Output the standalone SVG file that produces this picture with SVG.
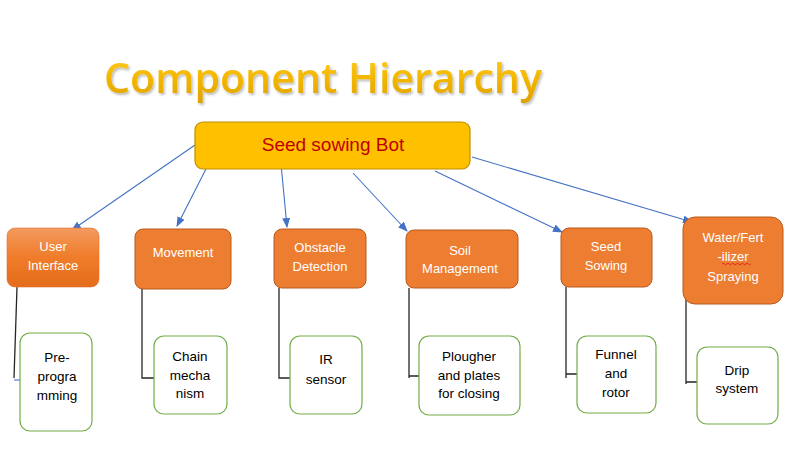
<svg xmlns="http://www.w3.org/2000/svg" width="789" height="475" viewBox="0 0 789 475">
<defs>
<style>
.title{font-family:"Open Sans","Liberation Sans",sans-serif;font-size:42px;font-weight:600;fill:url(#gold);}
.root{fill:#FFC000;stroke:#BF9000;stroke-width:1.2;}
.roottxt{font-family:"Liberation Sans",sans-serif;font-size:19px;fill:#C00000;text-anchor:middle;}
.l2{fill:#ED7D31;stroke:#B85A1D;stroke-width:1;}
.l2txt{font-family:"Liberation Sans",sans-serif;font-size:13px;fill:#FFFFFF;text-anchor:middle;}
.l3{fill:#FFFFFF;stroke:#70AD47;stroke-width:1.2;}
.l3txt{font-family:"Liberation Sans",sans-serif;font-size:13.5px;fill:#000000;text-anchor:middle;}
.arrow{stroke:#4472C4;stroke-width:1.1;fill:none;marker-end:url(#ah);}
.elbow{stroke:#262626;stroke-width:1.3;fill:none;}
</style>
<linearGradient id="gold" x1="0" y1="0" x2="0" y2="1">
<stop offset="0" stop-color="#FFD43A"/>
<stop offset="0.5" stop-color="#F4B800"/>
<stop offset="1" stop-color="#DDA000"/>
</linearGradient>
<linearGradient id="uigrad" x1="0" y1="0" x2="0" y2="1">
<stop offset="0" stop-color="#F39A5E"/>
<stop offset="0.5" stop-color="#F07C2A"/>
<stop offset="1" stop-color="#E46C1A"/>
</linearGradient>
<filter id="shadow" x="-5%" y="-20%" width="110%" height="150%">
<feDropShadow dx="1.5" dy="2" stdDeviation="1" flood-color="#000000" flood-opacity="0.25"/>
</filter>
<marker id="ah" markerUnits="userSpaceOnUse" markerWidth="10" markerHeight="8" refX="9" refY="4" orient="auto">
<path d="M0,0 L10,4 L0,8 Z" fill="#4472C4"/>
</marker>
</defs>
<rect width="789" height="475" fill="#FFFFFF"/>
<text class="title" x="104" y="93" textLength="438" lengthAdjust="spacingAndGlyphs" filter="url(#shadow)">Component Hierarchy</text>

<g id="connectors">
<line class="arrow" x1="195" y1="145" x2="72" y2="230"/>
<line class="arrow" x1="208" y1="165" x2="177" y2="226"/>
<line class="arrow" x1="281" y1="164" x2="287" y2="227"/>
<line class="arrow" x1="353" y1="173" x2="407" y2="231"/>
<line class="arrow" x1="435" y1="171" x2="562" y2="232"/>
<line class="arrow" x1="472" y1="157" x2="692" y2="222"/>
<path class="elbow" d="M17,287 L14,378"/>
<path d="M14,380 L22,380" stroke="#4472C4" stroke-width="1.1" fill="none"/>
<path class="elbow" d="M142,289 L142,378 L154,378"/>
<path class="elbow" d="M279,288 L279,378 L290,378"/>
<path class="elbow" d="M409,288 L409,378 M409,376 L419,376"/>
<path class="elbow" d="M566,287 L566,378 M566,374 L577,374"/>
<path class="elbow" d="M686,293 L686,384 M686,382 L697,382"/>
</g>

<g id="root">
<rect class="root" x="195" y="122" width="275" height="47" rx="8"/>
<text class="roottxt" x="333" y="151">Seed sowing Bot</text>
</g>

<g id="user-interface">
<rect x="7" y="228" width="92" height="59" rx="8" fill="url(#uigrad)" stroke="#E07030" stroke-width="0.6"/>
<text class="l2txt" x="53" y="251">User</text>
<text class="l2txt" x="53" y="270">Interface</text>
</g>
<g id="movement">
<rect class="l2" x="135" y="229" width="96" height="60" rx="8"/>
<text class="l2txt" x="183" y="257">Movement</text>
</g>
<g id="obstacle-detection">
<rect class="l2" x="274" y="229" width="92" height="59" rx="8"/>
<text class="l2txt" x="320" y="252">Obstacle</text>
<text class="l2txt" x="320" y="271">Detection</text>
</g>
<g id="soil-management">
<rect class="l2" x="406" y="230" width="112" height="58" rx="8"/>
<text class="l2txt" x="460" y="255">Soil</text>
<text class="l2txt" x="460" y="273">Management</text>
</g>
<g id="seed-sowing">
<rect class="l2" x="561" y="228" width="91" height="59" rx="8"/>
<text class="l2txt" x="606" y="251">Seed</text>
<text class="l2txt" x="606" y="270">Sowing</text>
</g>
<g id="water-fertilizer-spraying">
<rect class="l2" x="683" y="217" width="100" height="87" rx="12"/>
<text class="l2txt" x="733" y="242">Water/Fert</text>
<text class="l2txt" x="733" y="261">-ilizer</text>
<path d="M722,264 q1.2,-1.5 2.4,0 t2.4,0 t2.4,0 t2.4,0 t2.4,0 t2.4,0 t2.4,0 t2.4,0 t2.4,0 t2.4,0 t2.4,0 t2.4,0" stroke="#E02020" stroke-width="0.9" fill="none"/>
<text class="l2txt" x="733" y="281">Spraying</text>
</g>

<g id="pre-programming">
<rect class="l3" x="20" y="333" width="72" height="98" rx="10"/>
<text class="l3txt" x="57" y="362">Pre-</text>
<text class="l3txt" x="57" y="381">progra</text>
<text class="l3txt" x="57" y="400">mming</text>
</g>
<g id="chain-mechanism">
<rect class="l3" x="154" y="336" width="73" height="78" rx="10"/>
<text class="l3txt" x="190" y="361">Chain</text>
<text class="l3txt" x="190" y="380">mecha</text>
<text class="l3txt" x="190" y="398">nism</text>
</g>
<g id="ir-sensor">
<rect class="l3" x="290" y="336" width="72" height="78" rx="10"/>
<text class="l3txt" x="326" y="364">IR</text>
<text class="l3txt" x="326" y="384">sensor</text>
</g>
<g id="plougher">
<rect class="l3" x="419" y="336" width="101" height="79" rx="10"/>
<text class="l3txt" x="469" y="361">Plougher</text>
<text class="l3txt" x="469" y="380">and plates</text>
<text class="l3txt" x="469" y="398">for closing</text>
</g>
<g id="funnel-rotor">
<rect class="l3" x="577" y="336" width="79" height="77" rx="10"/>
<text class="l3txt" x="616" y="359">Funnel</text>
<text class="l3txt" x="616" y="378">and</text>
<text class="l3txt" x="616" y="397">rotor</text>
</g>
<g id="drip-system">
<rect class="l3" x="697" y="347" width="81" height="77" rx="10"/>
<text class="l3txt" x="737" y="375">Drip</text>
<text class="l3txt" x="737" y="393">system</text>
</g>
</svg>
